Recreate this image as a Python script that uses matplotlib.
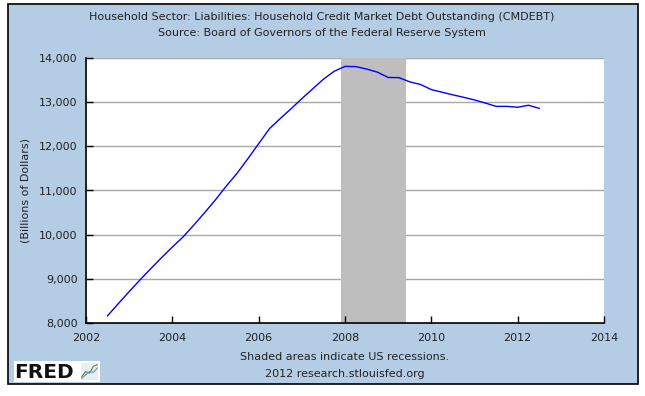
import matplotlib
matplotlib.use("Agg")
import matplotlib.pyplot as plt
from matplotlib.patches import Rectangle
from matplotlib.ticker import FuncFormatter

# ---- data (quarterly, billions of dollars) ----
years = [2002.5, 2002.75, 2003.0, 2003.25, 2003.5, 2003.75, 2004.0, 2004.25,
         2004.5, 2004.75, 2005.0, 2005.25, 2005.5, 2005.75, 2006.0, 2006.25,
         2006.5, 2006.75, 2007.0, 2007.25, 2007.5, 2007.75, 2008.0, 2008.25,
         2008.5, 2008.75, 2009.0, 2009.25, 2009.5, 2009.75, 2010.0, 2010.25,
         2010.5, 2010.75, 2011.0, 2011.25, 2011.5, 2011.75, 2012.0, 2012.25,
         2012.5]
debt = [8165, 8440, 8710, 8975, 9230, 9480, 9720, 9950,
        10220, 10500, 10790, 11100, 11390, 11720, 12060, 12400,
        12630, 12850, 13080, 13300, 13520, 13700, 13810, 13805,
        13750, 13680, 13560, 13555, 13460, 13400, 13285, 13225,
        13165, 13110, 13050, 12980, 12905, 12905, 12885, 12930,
        12860]
recession = [(2007.917, 2009.42)]
xticks = [2002, 2004, 2006, 2008, 2010, 2012, 2014]
yticks = [8000, 9000, 10000, 11000, 12000, 13000, 14000]

title1 = "Household Sector: Liabilities: Household Credit Market Debt Outstanding (CMDEBT)"
title2 = "Source: Board of Governors of the Federal Reserve System"

W, H = 645, 396
bg = "#B4CDE5"
fig = plt.figure(figsize=(W / 100, H / 100), dpi=100)
fig.patch.set_facecolor("white")

# outer blue panel
fig.patches.append(Rectangle((8 / W, 1 - 384 / H), (638 - 8) / W, (384 - 4) / H,
                             transform=fig.transFigure, facecolor=bg,
                             edgecolor="black", linewidth=1.2, zorder=0))

ax = fig.add_axes([86 / W, 1 - 323 / H, (604 - 86) / W, (323 - 58) / H])
ax.set_facecolor("white")
ax.set_zorder(1)

for a, b in recession:
    ax.axvspan(a, b, color="#BEBEBE", lw=0, zorder=1)

for y in yticks[1:]:
    ax.axhline(y, color="#A8A8A8", lw=1.0, zorder=0.5)

ax.plot(years, debt, color="#0000FF", lw=1.0, zorder=3)

ax.set_xlim(2002, 2014)
ax.set_ylim(8000, 14000)
ax.set_xticks(xticks)
ax.set_yticks(yticks)
ax.yaxis.set_major_formatter(FuncFormatter(lambda v, p: f"{int(v):,}"))
ax.tick_params(direction="in", length=5, width=1, colors="black",
               labelsize=8, labelcolor="#222222", pad=6)
ax.tick_params(axis="x", pad=7)

for s in ["top", "right"]:
    ax.spines[s].set_visible(False)
for s in ["left", "bottom"]:
    ax.spines[s].set_color("black")
    ax.spines[s].set_linewidth(1.2)

ax.set_ylabel("(Billions of Dollars)", fontsize=8, color="#222222", labelpad=6)

fig.text(322 / W, 1 - 17 / H, title1, ha="center", va="center",
         fontsize=8, color="#222222")
fig.text(322 / W, 1 - 33 / H, title2, ha="center", va="center",
         fontsize=8, color="#222222")
fig.text(345 / W, 1 - 357 / H, "Shaded areas indicate US recessions.",
         ha="center", va="center", fontsize=8, color="#222222")
fig.text(345 / W, 1 - 374 / H, "2012 research.stlouisfed.org",
         ha="center", va="center", fontsize=8, color="#222222")

# FRED logo box
fig.patches.append(Rectangle((14 / W, 1 - 382 / H), (100 - 14) / W, (382 - 361) / H,
                             transform=fig.transFigure, facecolor="white",
                             edgecolor="none", zorder=1))
fig.text(14 / W, 1 - 372 / H, "FRED", ha="left", va="center", fontsize=14.5,
         fontweight="bold", color="#111111", zorder=2)
lx = fig.add_axes([81 / W, 1 - 380 / H, 17 / W, 17 / H])
lx.set_zorder(3)
lx.set_facecolor("#E8EEF2")
lx.plot([0, 1, 2, 3, 4], [0.2, 0.5, 0.4, 0.8, 0.9], color="#5A8A3A", lw=0.8)
lx.plot([0, 1, 2, 3, 4], [0.1, 0.3, 0.5, 0.45, 0.7], color="#6A8FC8", lw=0.8)
lx.set_xlim(-0.2, 4.2); lx.set_ylim(0, 1)
lx.set_xticks([]); lx.set_yticks([])
for s in lx.spines.values():
    s.set_visible(False)

fig.savefig("out.png", dpi=100, facecolor=fig.get_facecolor())
